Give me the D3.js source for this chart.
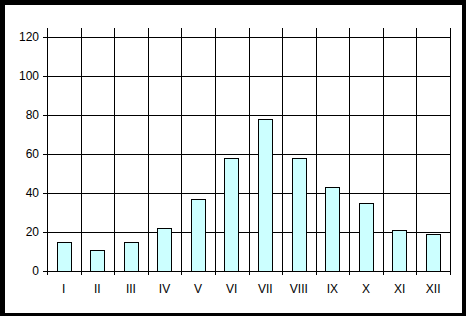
<!DOCTYPE html>
<html>
<head>
<meta charset="utf-8">
<title>Monthly bars</title>
<script src="https://cdn.jsdelivr.net/npm/d3@7"></script>
<style>
  html, body { margin: 0; padding: 0; background: #000; }
  svg { display: block; }
  text { font-family: "Liberation Sans", Arial, sans-serif; font-size: 12px; fill: #000; }
</style>
</head>
<body>
<script>
// data
var months = ["I","II","III","IV","V","VI","VII","VIII","IX","X","XI","XII"];
var values = [15, 11, 15, 22, 37, 58, 78, 58, 43, 35, 21, 19];
var yTicks = [0, 20, 40, 60, 80, 100, 120];

var svgwidth = 466,
    svgheight = 316;

var svg = d3.select("body").append("svg")
    .attr("width", svgwidth)
    .attr("height", svgheight);

// black frame, white inside
svg.append("rect")
    .attr("x", 0).attr("y", 0)
    .attr("width", svgwidth).attr("height", svgheight)
    .style("fill", "#000");
svg.append("rect")
    .attr("x", 5).attr("y", 5)
    .attr("width", 457).attr("height", 308)
    .style("fill", "#fff");

// plot box (note: "top" is a reserved global in browsers)
var plotLeft = 47, plotRight = 450, plotTop = 37, plotBottom = 271, gridTop = 28;

var x = d3.scaleBand()
    .domain(months)
    .range([plotLeft, plotRight])
    .paddingInner(0.57)
    .paddingOuter(0.285);

var y = d3.scaleLinear()
    .domain([0, 120])
    .range([plotBottom, plotTop]);

var step = x.step();
var edges = d3.range(months.length + 1).map(function(i) { return x(months[0]) - x.paddingInner() * step / 2 + i * step; });

var g = svg.append("g");

// horizontal gridlines + left ticks
g.selectAll(".hgrid")
    .data(yTicks)
    .enter().append("line")
      .attr("class", "hgrid")
      .attr("x1", plotLeft - 4)
      .attr("x2", Math.round(plotRight) + 0.5)
      .attr("y1", function(d) { return Math.round(y(d)) + 0.5; })
      .attr("y2", function(d) { return Math.round(y(d)) + 0.5; })
      .style("stroke", "#000")
      .style("stroke-width", 1);

// vertical gridlines at category edges, running past the axis as ticks
g.selectAll(".vgrid")
    .data(edges)
    .enter().append("line")
      .attr("class", "vgrid")
      .attr("x1", function(d) { return Math.round(d) + 0.5; })
      .attr("x2", function(d) { return Math.round(d) + 0.5; })
      .attr("y1", gridTop)
      .attr("y2", plotBottom + 4)
      .style("stroke", "#000")
      .style("stroke-width", 1);

// bars
g.selectAll(".bar")
    .data(values)
    .enter().append("rect")
      .attr("class", "bar")
      .attr("x", function(d, i) { return Math.round(x(months[i])) + 0.5; })
      .attr("y", function(d) { return Math.round(y(d)) + 0.5; })
      .attr("width", Math.round(x.bandwidth()))
      .attr("height", function(d) { return Math.round(y(0)) - Math.round(y(d)); })
      .style("fill", "#ccffff")
      .style("stroke", "#000")
      .style("stroke-width", 1);

// y labels
g.selectAll(".ylab")
    .data(yTicks)
    .enter().append("text")
      .attr("class", "ylab")
      .attr("x", plotLeft - 8)
      .attr("y", function(d) { return y(d); })
      .attr("dy", "0.35em")
      .attr("text-anchor", "end")
      .text(function(d) { return d; });

// x labels
g.selectAll(".xlab")
    .data(months)
    .enter().append("text")
      .attr("class", "xlab")
      .attr("x", function(d) { return x(d) + x.bandwidth() / 2; })
      .attr("y", 293)
      .attr("text-anchor", "middle")
      .text(function(d) { return d; });
</script>
</body>
</html>
